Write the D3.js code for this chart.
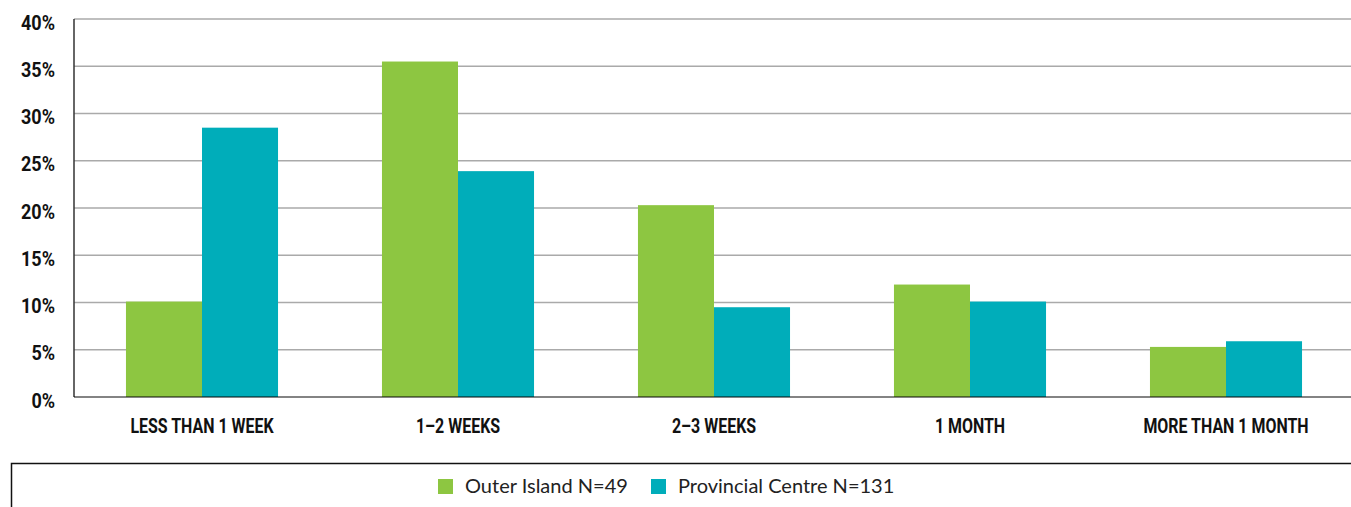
<!DOCTYPE html>
<html>
<head>
<meta charset="utf-8">
<script src="https://cdn.jsdelivr.net/npm/d3@7"></script>
<style>
  body { margin: 0; background: #fff; }
  .tick-label { font-family: Roboto, "DejaVu Sans", sans-serif; font-weight: bold; fill: #111; }
  .legend-text { font-family: Lato, "Noto Sans", sans-serif; font-size: 20px; fill: #222; }
</style>
</head>
<body>
<div id="chart"></div>
<script>
var categories = ["LESS THAN 1 WEEK", "1–2 WEEKS", "2–3 WEEKS", "1 MONTH", "MORE THAN 1 MONTH"];
var seriesNames = ["Outer Island N=49", "Provincial Centre N=131"];
var outerIsland = [10.1, 35.5, 20.3, 11.9, 5.3];
var provincialCentre = [28.5, 23.9, 9.5, 10.1, 5.9];
var yTicks = [0, 5, 10, 15, 20, 25, 30, 35, 40];
var colors = ["#8dc641", "#00adba"];

var width = 1351,
    height = 507,
    margin = {top: 19, left: 74, bottom: 110};

var svg = d3.select("#chart").append("svg")
    .attr("width", width)
    .attr("height", height);

var x = d3.scaleBand()
    .domain(categories)
    .range([margin.left, margin.left + 5 * 256])
    .paddingInner(0.406)
    .paddingOuter(0.203);

var xSub = d3.scaleBand()
    .domain(seriesNames)
    .range([0, x.bandwidth()]);

var y = d3.scaleLinear()
    .domain([0, 40])
    .range([397, margin.top]);

var data = categories.map(function(c, i) {
    return {cat: c, values: [outerIsland[i], provincialCentre[i]]};
});

// gridlines
svg.append("g")
    .selectAll("line")
    .data(yTicks.slice(1))
    .enter().append("line")
    .attr("x1", margin.left)
    .attr("x2", width)
    .attr("y1", function(d) { return y(d); })
    .attr("y2", function(d) { return y(d); })
    .attr("stroke", "#aaa")
    .attr("stroke-width", 1.5);

// y tick labels (condensed look via horizontal scale)
svg.append("g")
    .selectAll("text")
    .data(yTicks)
    .enter().append("text")
    .attr("class", "tick-label")
    .attr("transform", function(d) { return "translate(55," + (y(d) + 10.5) + ") scale(0.9,1)"; })
    .attr("text-anchor", "end")
    .style("font-size", "20px")
    .text(function(d) { return d + "%"; });

// bars
var groups = svg.append("g")
    .selectAll("g")
    .data(data)
    .enter().append("g")
    .attr("transform", function(d) { return "translate(" + x(d.cat) + ",0)"; });

groups.selectAll("rect")
    .data(function(d) { return d.values; })
    .enter().append("rect")
    .attr("x", function(d, i) { return xSub(seriesNames[i]); })
    .attr("width", xSub.bandwidth())
    .attr("y", function(d) { return y(d); })
    .attr("height", function(d) { return y(0) - y(d); })
    .attr("fill", function(d, i) { return colors[i]; });

// axis lines
svg.append("line")
    .attr("x1", margin.left).attr("x2", margin.left)
    .attr("y1", margin.top).attr("y2", y(0))
    .attr("stroke", "#333")
    .attr("stroke-width", 1.5);

svg.append("line")
    .attr("x1", margin.left).attr("x2", width)
    .attr("y1", y(0)).attr("y2", y(0))
    .attr("stroke", "rgba(0,0,0,0.65)")
    .attr("stroke-width", 1.5);

// category labels
svg.append("g")
    .selectAll("text")
    .data(categories)
    .enter().append("text")
    .attr("class", "tick-label")
    .attr("transform", function(d) { return "translate(" + (x(d) + x.bandwidth() / 2) + ",433) scale(0.76,1)"; })
    .attr("text-anchor", "middle")
    .style("font-size", "21px")
    .text(function(d) { return d; });

// legend box
svg.append("path")
    .attr("d", "M" + (width + 2) + ",463.5 H11.5 V" + (height + 2))
    .attr("fill", "none")
    .attr("stroke", "#111")
    .attr("stroke-width", 1.5);

var legendX = [438, 651];
var legend = svg.append("g")
    .selectAll("g")
    .data(seriesNames)
    .enter().append("g")
    .attr("transform", function(d, i) { return "translate(" + legendX[i] + ",479)"; });

legend.append("rect")
    .attr("width", 15)
    .attr("height", 15)
    .attr("fill", function(d, i) { return colors[i]; });

legend.append("text")
    .attr("class", "legend-text")
    .attr("x", 27)
    .attr("y", 14)
    .text(function(d) { return d; });
</script>
</body>
</html>
